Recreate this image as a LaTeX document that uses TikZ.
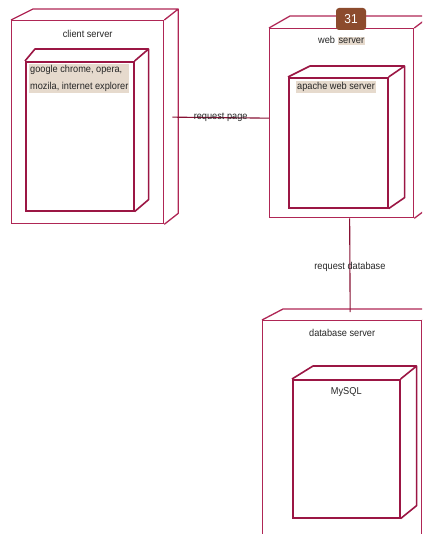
\documentclass[tikz,border=0pt]{standalone}
\usepackage{fontspec}
\setmainfont{Liberation Sans}[FakeStretch=0.92]
\usetikzlibrary{positioning}
\definecolor{outerline}{RGB}{175,38,85}
\definecolor{innerline}{RGB}{155,22,68}
\definecolor{linkline}{RGB}{135,18,52}
\definecolor{hlbeige}{RGB}{230,218,205}
\definecolor{badgebrown}{RGB}{140,75,45}
\newcommand{\hlword}[1]{{\setlength{\fboxsep}{1pt}\colorbox{hlbeige}{#1}}}

\begin{document}
\begin{tikzpicture}[x=1pt, y=-1pt, font=\fontsize{10}{12}\selectfont, text=black!85,
        outerbox/.style={draw=outerline, line width=1.3pt, fill=white, anchor=north west, inner sep=0pt},
        innerbox/.style={draw=innerline, line width=1.6pt, fill=white, anchor=north west, inner sep=0pt},
        title/.style={inner sep=1pt},
        hl/.style={fill=hlbeige, inner sep=1pt, align=left},
        link/.style={draw=linkline, line width=1.1pt}]
        \useasboundingbox (0,0) rectangle (422,534);
        \clip (0,0) rectangle (422,534);

        % nodes
        \node[outerbox, minimum width=152pt, minimum height=203pt] (client) at (11,20) {};
        \node[outerbox, minimum width=144pt, minimum height=189pt] (web) at (269,28) {};
        \node[outerbox, minimum width=159pt, minimum height=240pt] (db) at (262,320) {};
        \node[innerbox, minimum width=108pt, minimum height=149pt] (browser) at (25,61) {};
        \node[innerbox, minimum width=99pt, minimum height=130pt] (apache) at (288,77) {};
        \node[innerbox, minimum width=107pt, minimum height=138pt] (mysql) at (292,379) {};

        \foreach \n/\dl/\dr/\dy/\c/\w in {client/22/14/11/outerline/1.3pt, web/21/16/12/outerline/1.3pt,
                db/21/16/11/outerline/1.3pt, browser/10/14/12/innerline/1.6pt,
                apache/22/16/11/innerline/1.6pt, mysql/21/16/13/innerline/1.6pt}
            \draw[draw=\c, line width=\w, line join=round] (\n.north west) -- ++(\dl,-\dy)
                -| ([shift={(\dr pt,\dy pt)}]\n.south east) -- (\n.south east)
                (\n.north east) -- ++(\dr,-\dy);

        % texts
        \node[title, below=9pt of client.north] (clientname) {client server};
        \node[title, below=7pt of web.north] (webname) {web \hlword{server}};
        \node[title, below=8pt of db.north] (dbname) {database server};
        \node[title, below=7pt of mysql.north] (mysqlname) {MySQL};
        \node[hl, below right=4pt and 8pt of apache.north west] (apachename) {apache web server};
        \node[hl, font=\fontsize{10}{17.5}\selectfont, below right=3pt and 4pt of browser.north west] (browsername)
            {google chrome, opera,\\mozila, internet explorer};
        \node[fill=badgebrown, text=white, rounded corners=3pt, minimum width=30pt, minimum height=22pt,
            font=\fontsize{13}{15}\selectfont] (badge) at (351,19) {31};

        % connectors
        \draw[link] ([shift={(8pt,5pt)}]client.east) -- node[inner sep=0pt] {request page} ([yshift=5pt]web.west);
        \draw[link] ([xshift=8pt]web.south) -- node[pos=0.52, inner sep=0pt] {request database} ([shift={(8pt,8pt)}]db.north);
\end{tikzpicture}
\end{document}
